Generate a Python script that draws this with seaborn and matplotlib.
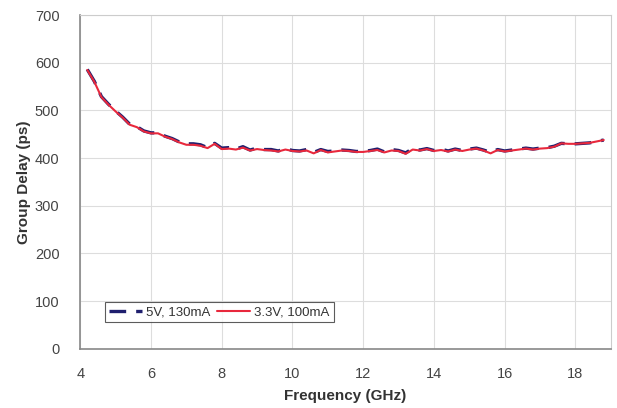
import numpy as np
import pandas as pd
import matplotlib
matplotlib.use("Agg")
import matplotlib.pyplot as plt
import seaborn as sns

# Frequency points (GHz)
freq = [4.2, 4.4, 4.6, 4.8, 5.0, 5.2, 5.4, 5.6, 5.8, 6.0,
        6.2, 6.4, 6.6, 6.8, 7.0, 7.2, 7.4, 7.6, 7.8, 8.0,
        8.2, 8.4, 8.6, 8.8, 9.0, 9.2, 9.4, 9.6, 9.8, 10.0,
        10.2, 10.4, 10.6, 10.8, 11.0, 11.2, 11.4, 11.6, 11.8, 12.0,
        12.2, 12.4, 12.6, 12.8, 13.0, 13.2, 13.4, 13.6, 13.8, 14.0,
        14.2, 14.4, 14.6, 14.8, 15.0, 15.2, 15.4, 15.6, 15.8, 16.0,
        16.2, 16.4, 16.6, 16.8, 17.0, 17.2, 17.4, 17.6, 17.8, 18.0,
        18.2, 18.4, 18.6, 18.8]

# Group delay (ps), 5V / 130mA
delay_5v = [586, 561, 529, 513, 499, 486, 471, 466, 457, 453,
            453, 446, 441, 434, 430, 430, 428, 422, 431, 421,
            422, 419, 424, 417, 421, 418, 418, 415, 420, 416,
            415, 418, 412, 418, 414, 415, 417, 416, 414, 414,
            416, 419, 413, 418, 416, 411, 420, 417, 420, 416,
            419, 415, 419, 416, 419, 421, 417, 412, 418, 415,
            417, 419, 421, 419, 421, 422, 425, 431, 430, 430,
            431, 432, 435, 438]

# Group delay (ps), 3.3V / 100mA
delay_33v = [585, 560, 528, 512, 498, 485, 470, 465, 456, 452,
             452, 445, 440, 433, 428, 428, 426, 421, 430, 419,
             420, 418, 422, 416, 419, 417, 416, 414, 418, 415,
             414, 416, 410, 417, 412, 414, 416, 415, 413, 413,
             415, 417, 412, 416, 415, 409, 418, 416, 419, 415,
             417, 414, 418, 415, 418, 420, 416, 410, 417, 414,
             416, 418, 420, 418, 420, 421, 424, 431, 430, 430,
             431, 432, 435, 438]

x_ticks = [4, 6, 8, 10, 12, 14, 16, 18]
y_ticks = [0, 100, 200, 300, 400, 500, 600, 700]

sns.set_style("white")
plt.rcParams['font.family'] = ['Liberation Sans', 'DejaVu Sans']

df = pd.DataFrame({"freq": freq, "v5": delay_5v, "v33": delay_33v})

fig = plt.figure(figsize=(6.17, 4.08), dpi=100)
ax = fig.add_axes([0.130, 0.145, 0.860, 0.818])

sns.lineplot(data=df, x="freq", y="v5", ax=ax, color="#1f1f6e",
             linewidth=2.4, linestyle=(0, (5, 3)), label="5V, 130mA")
sns.lineplot(data=df, x="freq", y="v33", ax=ax, color="#e8283c",
             linewidth=1.5, label="3.3V, 100mA")

ax.set_xlim(4, 19)
ax.set_ylim(0, 700)
ax.set_xticks(x_ticks)
ax.set_yticks(y_ticks)
ax.tick_params(axis="both", labelsize=10.5, colors="#444444",
               direction="out", length=4, width=0.8)
ax.tick_params(axis="y", pad=11)
ax.tick_params(axis="x", pad=9)
ax.grid(True, color="#dddddd", linewidth=0.8)

for side in ["top", "right"]:
    ax.spines[side].set_color("#cccccc")
for side in ["left", "bottom"]:
    ax.spines[side].set_color("#888888")
    ax.spines[side].set_linewidth(1.2)

ax.set_xlabel("Frequency (GHz)", fontsize=11, fontweight="bold",
              color="#333333", labelpad=6)
ax.set_ylabel("Group Delay (ps)", fontsize=11, fontweight="bold",
              color="#333333", labelpad=3)

leg = ax.legend(loc="lower left", bbox_to_anchor=(0.035, 0.06), ncol=2,
                fontsize=9.5, frameon=True, fancybox=False,
                handlelength=2.5, columnspacing=0.5, handletextpad=0.3,
                borderpad=0.3, labelcolor="#333333")
leg.get_frame().set_edgecolor("#333333")
leg.get_frame().set_linewidth(0.8)

fig.savefig("out.png", dpi=100)
